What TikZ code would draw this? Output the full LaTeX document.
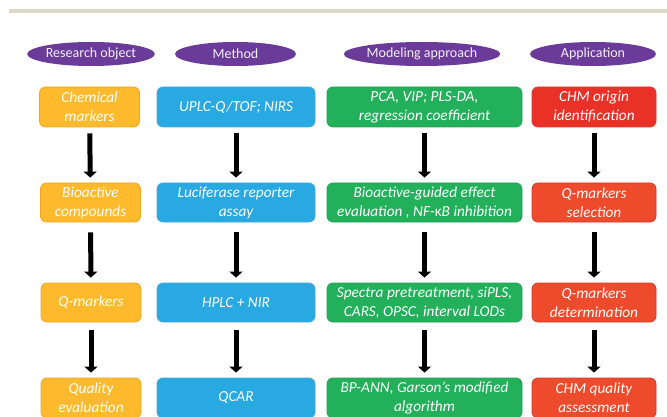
\documentclass[tikz,border=0pt]{standalone}
\usepackage{fontspec}
\setmainfont{Carlito}
\usetikzlibrary{arrows.meta,shapes.geometric}
\definecolor{cbar}{HTML}{DDD8C8}
\definecolor{cpurple}{HTML}{6A3B99}
\definecolor{corange}{HTML}{FDBA2C}
\definecolor{corangeb}{HTML}{EFA52C}
\definecolor{cblue}{HTML}{29A9E1}
\definecolor{cblueb}{HTML}{4AA8D8}
\definecolor{cgreen}{HTML}{22B05B}
\definecolor{cgreenb}{HTML}{2C9E58}
\definecolor{cred}{HTML}{EA3128}
\definecolor{credb}{HTML}{D8382E}
\definecolor{cred2}{HTML}{EE4A2C}
\tikzset{
  head/.style={ellipse, fill=cpurple, draw=none, text=white!92!cpurple, inner sep=0pt,
    minimum width=125pt, minimum height=24pt, font=\fontsize{14}{16}\selectfont},
  boxstyle/.style={rounded corners=6pt, text=white, align=center, inner sep=2pt,
    font=\fontsize{15.3}{19}\selectfont\itshape, line width=0.8pt},
  obox/.style={boxstyle, fill=corange, draw=corangeb, minimum width=100pt},
  bbox/.style={boxstyle, fill=cblue, draw=cblueb, minimum width=158pt},
  gbox/.style={boxstyle, fill=cgreen, draw=cgreenb, minimum width=195pt},
  rbox/.style={boxstyle, fill=cred, draw=credb, minimum width=124pt},
  r2box/.style={boxstyle, fill=cred2, draw=credb, minimum width=124pt},
  flow/.style={line width=5pt, black, -{Triangle[width=13pt,length=6pt]}, shorten <=6pt, shorten >=5pt}
}
\begin{document}
\begin{tikzpicture}[x=1pt,y=-1pt]
\useasboundingbox (0,0) rectangle (667,417);
\clip (0,0) rectangle (667,417);
\fill[cbar] (9,9) rectangle (667,13.5);
% headers
\node[head] (h1) at (91,54) {Research object};
\node[head, minimum width=121pt] (h2) at (235.5,54) {Method};
\node[head] (h3) at (422,54) {Modeling approach};
\node[head, minimum width=126pt] (h4) at (593,54) {Application};
% row 1
\node[obox, minimum height=40pt] (o1) at (89.5,107) {Chemical\\markers};
\node[bbox, minimum height=40pt] (b1) at (236,107) {UPLC-Q/TOF; NIRS};
\node[gbox, minimum height=40pt] (g1) at (424.5,107) {PCA, VIP; PLS-DA,\\regression coefficient};
\node[rbox, minimum height=40pt] (r1) at (594,107) {CHM origin\\identification};
% row 2
\node[obox, minimum height=39pt] (o2) at (90.5,202.5) {Bioactive\\compounds};
\node[bbox, minimum height=39pt] (b2) at (236,202.5) {Luciferase reporter\\assay};
\node[gbox, minimum height=39pt] (g2) at (424.5,202.5) {Bioactive-guided effect\\evaluation , NF-\textup{κ}B inhibition};
\node[r2box, minimum height=39pt] (r2) at (594,202.5) {Q-markers\\selection};
% row 3
\node[obox, minimum height=39pt] (o3) at (91,302.5) {Q-markers};
\node[bbox, minimum height=39pt] (b3) at (236,302.5) {HPLC + NIR};
\node[gbox, minimum height=39pt] (g3) at (424.5,302.5) {Spectra pretreatment, siPLS,\\CARS, OPSC, interval LODs};
\node[r2box, minimum height=39pt] (r3) at (594,302.5) {Q-markers\\determination};
% row 4
\node[obox, minimum height=40pt] (o4) at (91,398) {Quality\\evaluation};
\node[bbox, minimum height=40pt] (b4) at (236,398) {QCAR};
\node[gbox, minimum height=40pt] (g4) at (424.5,398) {BP-ANN, Garson’s modified\\algorithm};
\node[r2box, minimum height=40pt] (r4) at (594,398) {CHM quality\\assessment};
% arrows
\foreach \c in {o,b,g,r}{
  \draw[flow] (\c1) -- (\c2);
  \draw[flow, shorten <=10pt] (\c2) -- (\c3);
  \draw[flow, shorten <=8pt] (\c3) -- (\c4);
}
\end{tikzpicture}
\end{document}
